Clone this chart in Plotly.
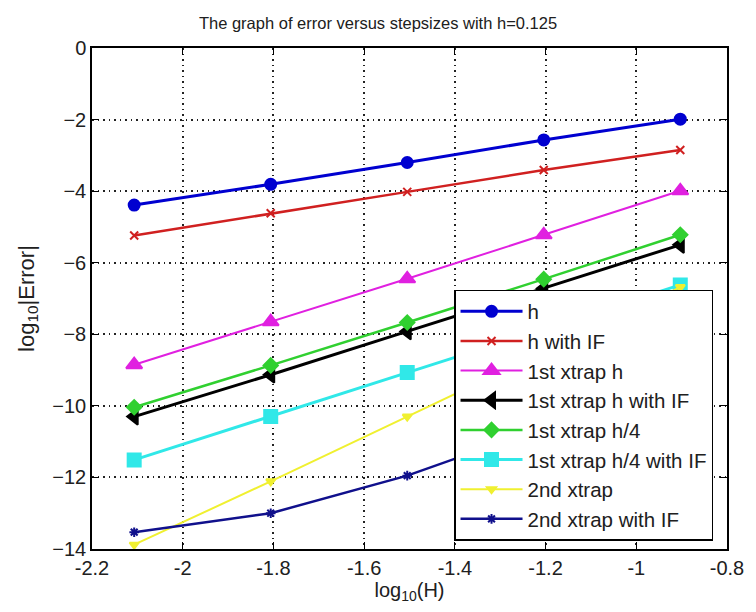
import plotly.graph_objects as go

log_H = [-2.107, -1.806, -1.505, -1.204, -0.903]

names = ["h", "h with IF", "1st xtrap h", "1st xtrap h with IF", "1st xtrap h/4",
         "1st xtrap h/4 with IF", "2nd xtrap", "2nd xtrap with IF"]

err_h = [-4.39, -3.81, -3.20, -2.57, -1.99]
err_h_IF = [-5.24, -4.62, -4.02, -3.41, -2.85]
err_x1_h = [-8.85, -7.65, -6.45, -5.22, -3.99]
err_x1_h_IF = [-10.30, -9.13, -7.92, -6.72, -5.50]
err_x1_h4 = [-10.04, -8.87, -7.67, -6.46, -5.22]
err_x1_h4_IF = [-11.51, -10.30, -9.07, -7.85, -6.62]
err_x2 = [-13.88, -12.11, -10.30, -8.50, -6.68]
err_x2_IF = [-13.53, -13.00, -11.95, -10.60, -9.30]

series = [err_h, err_h_IF, err_x1_h, err_x1_h_IF, err_x1_h4, err_x1_h4_IF, err_x2, err_x2_IF]
colors = ["#0000D0", "#D02020", "#E020E0", "#000000", "#30D030", "#30E8E8", "#F0F030", "#10108C"]
symbols = ["circle", "x-thin-open", "triangle-up", "triangle-left", "diamond", "square",
           "triangle-down", "asterisk-open"]
msizes = [11, 8, 14, 14, 11, 13, 8, 8]
lwidths = [3, 2.5, 2, 3, 2.5, 3, 2, 2.5]

FONT = "Liberation Sans, Arial"
TXT = "#202020"

fig = go.Figure()
for name, ys, c, s, ms, lw in zip(names, series, colors, symbols, msizes, lwidths):
    fig.add_trace(go.Scatter(
        x=log_H, y=ys, name=name, mode="lines+markers",
        line=dict(color=c, width=lw),
        marker=dict(symbol=s, size=ms, color=c, line=dict(color=c, width=2)),
    ))

axis_common = dict(
    showline=True, linecolor="black", linewidth=1.5, mirror="allticks",
    ticks="inside", ticklen=7, tickcolor="black",
    showgrid=True, gridcolor="#222222", griddash="1.5px,4px", gridwidth=1.5,
    zeroline=False, tickfont=dict(family=FONT, size=20, color=TXT),
)

fig.update_layout(
    width=756, height=612,
    margin=dict(l=92, r=18, t=48, b=63),
    paper_bgcolor="white", plot_bgcolor="white",
    title=dict(text="The graph of error versus stepsizes with h=0.125",
               x=0.5, xanchor="center", y=0.962, yanchor="middle",
               font=dict(family=FONT, size=16.5, color=TXT)),
    xaxis=dict(range=[-2.2, -0.8], tickvals=[-2.2, -2, -1.8, -1.6, -1.4, -1.2, -1, -0.8],
               ticktext=["-2.2", "-2", "-1.8", "-1.6", "-1.4", "-1.2", "-1", "-0.8"],
               title=dict(text="log<sub>10</sub>(H)", standoff=0,
                          font=dict(family=FONT, size=20, color=TXT)),
               **axis_common),
    yaxis=dict(range=[-14, 0], tickvals=[-14, -12, -10, -8, -6, -4, -2, 0],
               title=dict(text="log<sub>10</sub>|Error|", standoff=12,
                          font=dict(family=FONT, size=22, color=TXT)),
               **axis_common),
    legend=dict(x=0.978, y=0.517, xanchor="right", yanchor="top",
                bgcolor="white", bordercolor="black", borderwidth=1.5,
                font=dict(family=FONT, size=20.5, color=TXT),
                tracegroupgap=0, itemwidth=62),
    showlegend=True,
)

fig.write_html("out.html")
